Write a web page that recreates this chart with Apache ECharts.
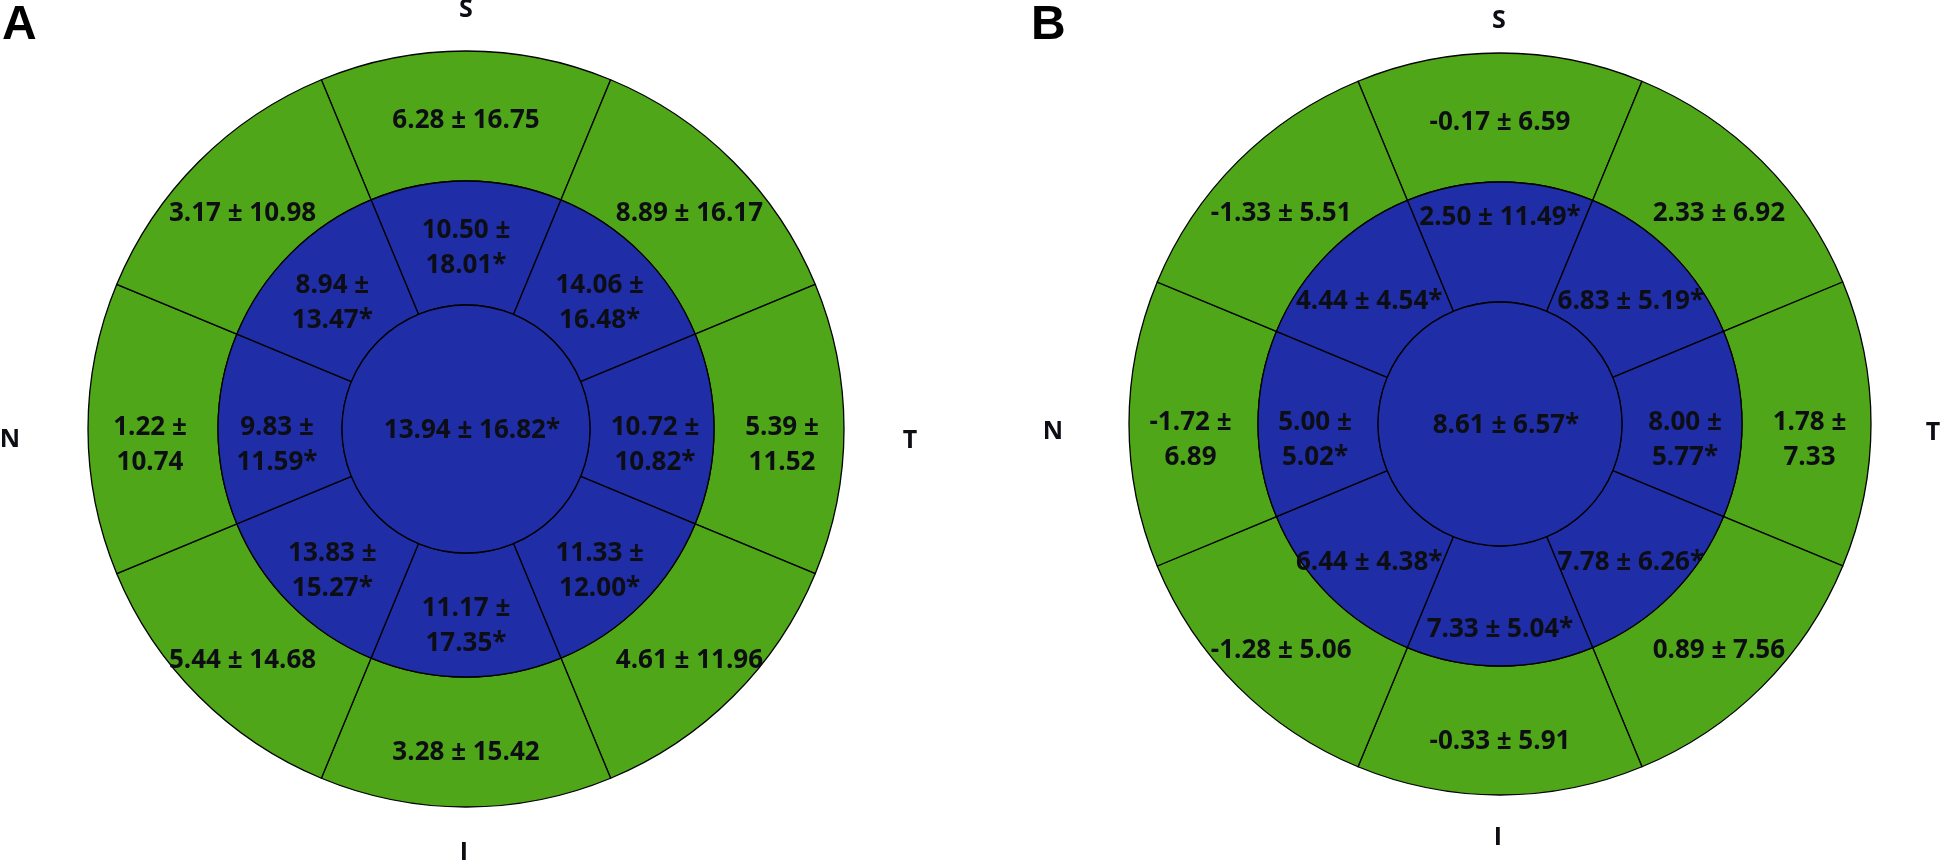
<!doctype html>
<html lang="en">
<head>
  <meta charset="UTF-8">
  <script src="https://cdn.jsdelivr.net/npm/echarts@6/dist/echarts.min.js"></script>
  <title>Sector map</title>
  <style type="text/css">
    html, body {
      margin: 0;
      padding: 0;
      background-color: #ffffff;
    }

    #canvas {
      width: 1944px;
      height: 867px;
    }
  </style>
</head>

<body>
<div id="canvas"></div>

<script type="text/javascript">
  // sectors clockwise from the top: S, ST, T, IT, I, IN, N, SN
  const sectors = ['S', 'ST', 'T', 'IT', 'I', 'IN', 'N', 'SN']

  const outerMeanA = [6.28, 8.89, 5.39, 4.61, 3.28, 5.44, 1.22, 3.17]
  const outerSdA = [16.75, 16.17, 11.52, 11.96, 15.42, 14.68, 10.74, 10.98]
  const innerMeanA = [10.50, 14.06, 10.72, 11.33, 11.17, 13.83, 9.83, 8.94]
  const innerSdA = [18.01, 16.48, 10.82, 12.00, 17.35, 15.27, 11.59, 13.47]
  const centerA = [13.94, 16.82]

  const outerMeanB = [-0.17, 2.33, 1.78, 0.89, -0.33, -1.28, -1.72, -1.33]
  const outerSdB = [6.59, 6.92, 7.33, 7.56, 5.91, 5.06, 6.89, 5.51]
  const innerMeanB = [2.50, 6.83, 8.00, 7.78, 7.33, 6.44, 5.00, 4.44]
  const innerSdB = [11.49, 5.19, 5.77, 6.26, 5.04, 4.38, 5.02, 4.54]
  const centerB = [8.61, 6.57]

  const GREEN = '#4fa618'
  const BLUE = '#1f2ea6'
  const FONT = '"Open Sans", "Liberation Sans", sans-serif'
  const TEXT = '#0d0d14'

  const canvas = document.getElementById('canvas')
  const chart = echarts.init(canvas, null, { renderer: 'canvas' })

  const fmt = (m, s, star, wrap) => {
    const tail = s.toFixed(2) + (star ? '*' : '')
    return m.toFixed(2) + (wrap ? ' \u00b1\n' : ' \u00b1 ') + tail
  }

  const labelStyle = {
    show: true,
    color: TEXT,
    fontFamily: FONT,
    fontWeight: 'bold',
    fontSize: 26,
    lineHeight: 35,
  }

  // small vertical nudges so the labels sit where the original figure put them
  const nudge = (panel, inner, i, side, wrap) => {
    if (side && wrap) return [0, 16]
    if (panel.pushInner && inner && i === 0) return [0, -21]
    if (panel.pushInner && inner && i === 4) return [0, 21]
    return [0, 8]
  }

  const ring = (panel, inner, means, sds, color, star, wrapAll) => ({
    type: 'pie',
    center: panel.center,
    radius: inner ? [panel.r[0], panel.r[1]] : [panel.r[1], panel.r[2]],
    startAngle: 112.5,
    clockwise: true,
    silent: true,
    animation: false,
    emphasis: { disabled: true },
    itemStyle: { color: color, borderColor: '#000', borderWidth: 1.3 },
    labelLine: { show: false },
    data: means.map((m, i) => {
      const side = i === 2 || i === 6
      const wrap = wrapAll || side
      return {
        name: sectors[i],
        value: 1,
        label: Object.assign({}, labelStyle, {
          position: 'inside',
          offset: nudge(panel, inner, i, side, wrap),
          formatter: fmt(m, sds[i], star, wrap),
        }),
      }
    }),
  })

  const disc = (panel, val, color) => ({
    type: 'pie',
    center: panel.center,
    radius: [0, panel.r[0]],
    silent: true,
    animation: false,
    emphasis: { disabled: true },
    itemStyle: { color: color, borderColor: '#000', borderWidth: 1.3 },
    labelLine: { show: false },
    data: [{
      name: 'C',
      value: 1,
      label: Object.assign({}, labelStyle, {
        position: 'center',
        offset: [6, 2],
        formatter: fmt(val[0], val[1], true, false),
      }),
    }],
  })

  const panelA = { center: [466, 429], r: [124, 248, 378], pushInner: false }
  const panelB = { center: [1500, 424], r: [122, 242, 371], pushInner: true }

  const letter = (text, x, y) => ({
    type: 'text',
    x: x,
    y: y,
    style: {
      text: text,
      fill: TEXT,
      font: 'bold 25px ' + FONT,
      textAlign: 'center',
      textVerticalAlign: 'middle',
    },
  })

  const panelLetter = (text, x) => ({
    type: 'text',
    x: x,
    y: 2,
    style: {
      text: text,
      fill: '#000',
      font: 'bold 48px "Liberation Sans", Arial, sans-serif',
      textAlign: 'left',
      textVerticalAlign: 'top',
    },
  })

  chart.setOption({
    backgroundColor: '#ffffff',
    animation: false,
    series: [
      ring(panelA, false, outerMeanA, outerSdA, GREEN, false, false),
      ring(panelA, true, innerMeanA, innerSdA, BLUE, true, true),
      disc(panelA, centerA, BLUE),
      ring(panelB, false, outerMeanB, outerSdB, GREEN, false, false),
      ring(panelB, true, innerMeanB, innerSdB, BLUE, true, false),
      disc(panelB, centerB, BLUE),
    ],
    graphic: [
      panelLetter('A', 2),
      panelLetter('B', 1031),
      letter('S', 466, 10),
      letter('N', 10, 440),
      letter('T', 910, 441),
      letter('I', 464, 853),
      letter('S', 1499, 21),
      letter('N', 1053, 432),
      letter('T', 1933, 433),
      letter('I', 1498, 838),
    ],
  })

  window.addEventListener('resize', () => {
    chart.resize()
  })
</script>
</body>
</html>
